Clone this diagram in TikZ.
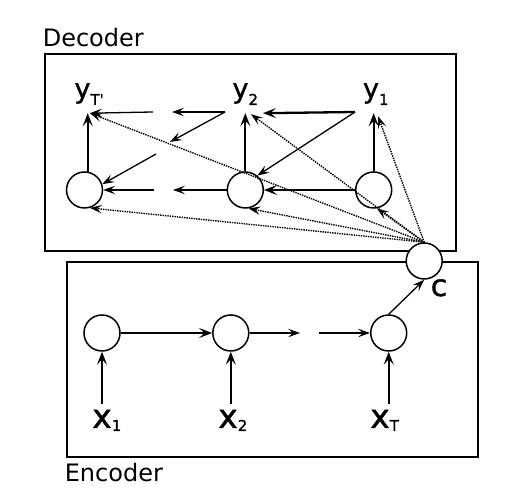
\documentclass[tikz,border=0pt]{standalone}
\usepackage{fontspec}
\setmainfont{DejaVu Sans}
\newfontfamily\labfont[FakeBold=1.2]{DejaVu Sans}
\usetikzlibrary{arrows.meta}

\tikzset{
  cell/.style={draw, circle, minimum size=36pt, inner sep=0pt, line width=1.5pt, fill=white},
  ylab/.style={anchor=base, inner xsep=0pt, inner ysep=8pt, font=\labfont\fontsize{27}{27}\selectfont},
  xlab/.style={anchor=base, inner xsep=0pt, inner ysep=6pt, font=\labfont\fontsize{33}{33}\selectfont},
  boxlab/.style={anchor=base west, inner sep=0pt, font=\fontsize{24}{24}\selectfont},
  arr/.style={-{Stealth[length=12pt,width=8.5pt,inset=5pt]}, line width=1.3pt},
  arrthick/.style={-{Stealth[length=13pt,width=10pt,inset=5.5pt]}, line width=2.3pt},
  attn/.style={-{Stealth[length=12pt,width=8.5pt,inset=5pt]}, densely dotted, line width=1.4pt},
}
\newcommand{\subs}[2][-7pt]{\rlap{\raisebox{#1}{\fontsize{15}{15}\selectfont #2}}}

\begin{document}
\begin{tikzpicture}[x=1pt, y=1pt]
    \useasboundingbox (0,0) rectangle (520,502);
    % Boxes
    \draw[line width=1.7pt] (45,448) rectangle (456,251);
    \draw[line width=1.7pt] (67,240) rectangle (478,45);
    \node[boxlab] (declab) at (42.6,455) {Decoder};
    \node[boxlab] (enclab) at (64.6,20) {Encoder};

    % Decoder
    \node[cell] (d3) at (84.5,312) {};
    \node[cell] (d2) at (245.3,312) {};
    \node[cell] (d1) at (373.7,312) {};
    \node[ylab] (yT) at (82.5,404) {y\subs{T\textquotesingle}};
    \node[ylab] (y2) at (240.5,404) {y\subs{2}};
    \node[ylab] (y1) at (371,404) {y\subs{1}};
    \coordinate (y1s) at (355,390);
    \coordinate (y2s) at (225,390);
    \coordinate (gapa) at (172,390);
    \coordinate (gapb) at (153,390);
    \coordinate (gapc) at (170,360);
    \coordinate (gapd) at (156,348);
    \coordinate (gape) at (173,312);
    \coordinate (gapf) at (154,312);
    \draw[arrthick] (d3.80) -- (d3.80 |- yT.south);
    \draw[arrthick] (d2.north) -- (d2.north |- y2.south);
    \draw[arrthick] (d1.north) -- (d1.north |- y1.south);
    \draw[arrthick] (y1s) -- ([xshift=22.5pt]y2.south);
    \draw[arr] (y1s) -- (d2.50);
    \draw[arr] (y2s) -- (gapa);
    \draw[arr] (y2s) -- (gapc);
    \draw[arr] (gapb) -- ([xshift=7.5pt]yT.south);
    \draw[arr] (gapd) -- (d3.18);
    \draw[arrthick] (d1.west) -- (d2.east);
    \draw[arr] (d2.west) -- (gape);
    \draw[arr] (gapf) -- (d3.east);

    % Encoder
    \node[cell] (e1) at (102,169) {};
    \node[cell] (e2) at (230.8,169) {};
    \node[cell] (e3) at (388.7,169) {};
    \node[xlab] (x1) at (102,74) {x\subs[-3pt]{1}};
    \node[xlab] (x2) at (228,74) {x\subs[-3pt]{2}};
    \node[xlab] (xT) at (380,74) {x\subs[-3pt]{T}};
    \coordinate (gapg) at (300,169);
    \coordinate (gaph) at (319,169);
    \draw[arrthick] (e1.south |- x1.north) -- (e1.south);
    \draw[arrthick] (e2.south |- x2.north) -- (e2.south);
    \draw[arrthick] (e3.south |- xT.north) -- (e3.south);
    \draw[arrthick] (e1.east) -- (e2.west);
    \draw[arr] (e2.east) -- (gapg);
    \draw[arr] (gaph) -- (e3.west);

    % Context
    \node[cell] (c) at (424.2,241) {};
    \node[anchor=base, inner sep=0pt, font=\labfont\fontsize{30}{30}\selectfont] (clab) at (439,206) {c};
    \draw[arr] (e3.north) -- (c.south);
    \draw[attn] (c.north) -- ([xshift=7.5pt]yT.south);
    \draw[attn] (c.north) -- ([xshift=10.5pt,yshift=-1pt]y2.south);
    \draw[attn] (c.north) -- ([xshift=7pt,yshift=-3pt]y1.south);
    \draw[attn] (c.north) -- (d3.287);
    \draw[attn] (c.north) -- (d2.280);
    \draw[attn] (c.north) -- (d1.280);
\end{tikzpicture}
\end{document}
